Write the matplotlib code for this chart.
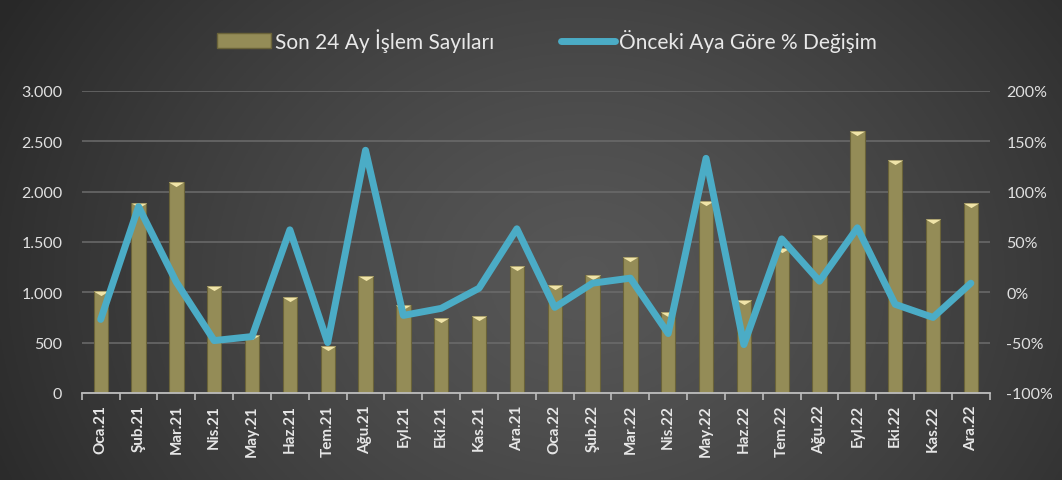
import numpy as np
import matplotlib
matplotlib.use("Agg")
import matplotlib.pyplot as plt
from matplotlib.path import Path
from matplotlib.patches import Patch
from matplotlib.lines import Line2D
from matplotlib.ticker import FuncFormatter

plt.rcParams["font.family"] = ["Lato", "DejaVu Sans"]

# veriler
aylar = ["Oca.21", "Şub.21", "Mar.21", "Nis.21", "May.21", "Haz.21", "Tem.21", "Ağu.21",
         "Eyl.21", "Eki.21", "Kas.21", "Ara.21", "Oca.22", "Şub.22", "Mar.22", "Nis.22",
         "May.22", "Haz.22", "Tem.22", "Ağu.22", "Eyl.22", "Eki.22", "Kas.22", "Ara.22"]
islem_sayisi = [1010, 1885, 2095, 1065, 575, 950, 470, 1160, 877, 745, 768, 1258,
                1073, 1172, 1348, 801, 1910, 927, 1440, 1573, 2600, 2318, 1728, 1884]
degisim = [-27, 85, 10, -48, -44, 62, -50, 141, -23, -16, 4, 63,
           -15, 9, 14, -41, 133, -52, 53, 11, 64, -12, -25, 9]

sol_ticks = [0, 500, 1000, 1500, 2000, 2500, 3000]
sag_ticks = [-100, -50, 0, 50, 100, 150, 200]

W, H = 1062, 481
fig = plt.figure(figsize=(W / 100, H / 100), dpi=100)

# arka plan: radyal gradyan
bg = fig.add_axes([0, 0, 1, 1], zorder=-10)
yy, xx = np.mgrid[0:1:300j, 0:1:600j]
r = np.sqrt(((xx - 0.55) * 1.0) ** 2 + ((yy - 0.42) * 0.55) ** 2)
r = np.clip(r / 0.62, 0, 1)
v = 0.34 - 0.18 * r ** 1.3
img = np.dstack([v, v, v])
bg.imshow(img, aspect="auto", extent=[0, 1, 0, 1], origin="lower")
bg.set_axis_off()

ax = fig.add_axes([0.077, 0.181, 0.855, 0.628])
ax.patch.set_alpha(0)
x = np.arange(len(aylar))

ax.bar(x, islem_sayisi, width=0.38, color="#948c57", edgecolor="#6a6339", linewidth=0.8, zorder=2)
# bar üstündeki üçgen parıltı
tri = Path([(-1, 0), (1, 0), (0, -0.6), (-1, 0)], [Path.MOVETO, Path.LINETO, Path.LINETO, Path.CLOSEPOLY])
ax.plot(x, islem_sayisi, linestyle="none", marker=tri, markersize=11,
        color="#f0e4a8", markeredgewidth=0, zorder=3)

ax.set_ylim(0, 3000)
ax.set_xlim(-0.5, len(aylar) - 0.5)
ax.set_yticks(sol_ticks)
ax.yaxis.set_major_formatter(FuncFormatter(lambda v, p: f"{int(v):,}".replace(",", ".")))
ax.grid(axis="y", color="#6c6c6c", linewidth=1.1, zorder=0)
ax.set_axisbelow(True)

ax.set_xticks(x)
ax.set_xticklabels(aylar, rotation=90, fontsize=11, fontweight="bold", color="#e6e6e6")
ax.set_xticks(np.arange(-0.5, len(aylar)), minor=True)
ax.tick_params(axis="x", which="major", length=0, pad=8)
ax.tick_params(axis="x", which="minor", length=5, color="#bdbdbd", width=1.2)
ax.tick_params(axis="y", length=0, labelsize=11.5, labelcolor="#e0e0e0", pad=14)

for s in ["top", "right", "left"]:
    ax.spines[s].set_visible(False)
ax.spines["bottom"].set_color("#bdbdbd")
ax.spines["bottom"].set_linewidth(1.3)

ax2 = ax.twinx()
ax2.plot(x, degisim, color="#4bacc6", linewidth=5, solid_joinstyle="round", solid_capstyle="round", zorder=5)
ax2.set_ylim(-100, 200)
ax2.set_yticks(sag_ticks)
ax2.yaxis.set_major_formatter(FuncFormatter(lambda v, p: f"{int(v)}%"))
ax2.tick_params(axis="y", length=0, labelsize=11.5, labelcolor="#e0e0e0", pad=12)
for s in ax2.spines.values():
    s.set_visible(False)

handles = [Patch(facecolor="#948c57", edgecolor="#6a6339"),
           Line2D([0], [0], color="#4bacc6", linewidth=5, solid_capstyle="round")]
fig.legend(handles, ["Son 24 Ay İşlem Sayıları", "Önceki Aya Göre % Değişim"],
           loc="center", bbox_to_anchor=(0.515, 0.915), ncol=2, frameon=False,
           fontsize=15, labelcolor="#e8e8e8", handlelength=2.6, handletextpad=0.2,
           columnspacing=3.2)

fig.savefig("out.png", dpi=100)
